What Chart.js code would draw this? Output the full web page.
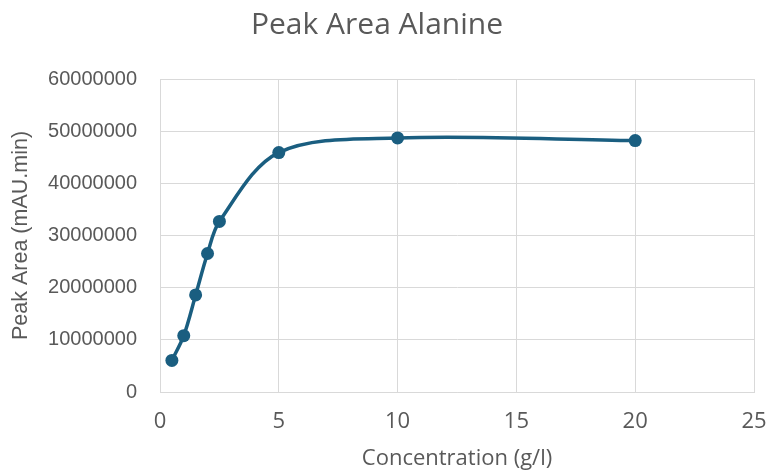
<!DOCTYPE html>
<html>
<head>
<meta charset="utf-8">
<script src="https://cdn.jsdelivr.net/npm/chart.js@4/dist/chart.umd.min.js"></script>
<style>
  html, body { margin: 0; padding: 0; background: #ffffff; }
  #wrap { width: 767px; height: 473px; }
</style>
</head>
<body>
<div id="wrap"><canvas id="c" width="767" height="473"></canvas></div>
<script>
// Alanine calibration: concentration (g/l) vs. peak area (mAU.min)
const concentration = [0.5, 1, 1.5, 2, 2.5, 5, 10, 20];
const peakArea = [6050000, 10800000, 18600000, 26550000, 32700000, 45900000, 48700000, 48200000];
const xTickValues = [0, 5, 10, 15, 20, 25];
const yTickValues = [0, 10000000, 20000000, 30000000, 40000000, 50000000, 60000000];

const chartTitle = 'Peak Area Alanine';
const xTitle = 'Concentration (g/l)';
const yTitle = 'Peak Area (mAU.min)';

const TEXT = '#595959';
const GRID = '#d9d9d9';
const SERIES = '#1a5e80';

const points = concentration.map((x, i) => ({ x: x, y: peakArea[i] }));

new Chart(document.getElementById('c'), {
  type: 'scatter',
  data: {
    datasets: [{
      data: points,
      showLine: true,
      borderColor: SERIES,
      backgroundColor: SERIES,
      borderWidth: 3.5,
      pointRadius: 6.5,
      pointHoverRadius: 6.5,
      pointBorderWidth: 0,
      tension: 0.33
    }]
  },
  options: {
    responsive: false,
    animation: false,
    devicePixelRatio: 1,
    layout: { padding: { left: 0, right: 13, top: 0, bottom: 0 } },
    plugins: {
      legend: { display: false },
      tooltip: { enabled: false },
      title: {
        display: true,
        text: chartTitle,
        color: TEXT,
        font: { family: '"Open Sans", sans-serif', size: 30, weight: 'normal' },
        padding: { top: 7, bottom: 36 }
      }
    },
    scales: {
      x: {
        type: 'linear',
        min: 0,
        max: 25,
        afterBuildTicks: s => { s.ticks = xTickValues.map(v => ({ value: v })); },
        afterFit: s => { s.height = 81; s.paddingLeft = 0; s.paddingRight = 0; },
        grid: { color: GRID, lineWidth: 1, drawTicks: false },
        border: { color: GRID, width: 1 },
        ticks: {
          color: TEXT,
          padding: 17,
          font: { family: '"Liberation Sans Narrow", "Open Sans", sans-serif', size: 22 },
          callback: v => String(v)
        },
        title: {
          display: true,
          text: xTitle,
          color: TEXT,
          padding: { top: 1, bottom: 1 },
          font: { family: '"Open Sans", sans-serif', size: 22 }
        }
      },
      y: {
        type: 'linear',
        min: 0,
        max: 60000000,
        afterBuildTicks: s => { s.ticks = yTickValues.map(v => ({ value: v })); },
        afterFit: s => { s.width = 160; },
        grid: { color: GRID, lineWidth: 1, drawTicks: false },
        border: { color: GRID, width: 1 },
        ticks: {
          color: TEXT,
          padding: 23,
          font: { family: '"Liberation Sans", Arial, sans-serif', size: 20 },
          callback: v => String(v)
        },
        title: {
          display: true,
          text: yTitle,
          color: TEXT,
          padding: { top: 8, bottom: 0 },
          font: { family: '"Liberation Sans", Arial, sans-serif', size: 21.5 }
        }
      }
    }
  }
});
</script>
</body>
</html>
